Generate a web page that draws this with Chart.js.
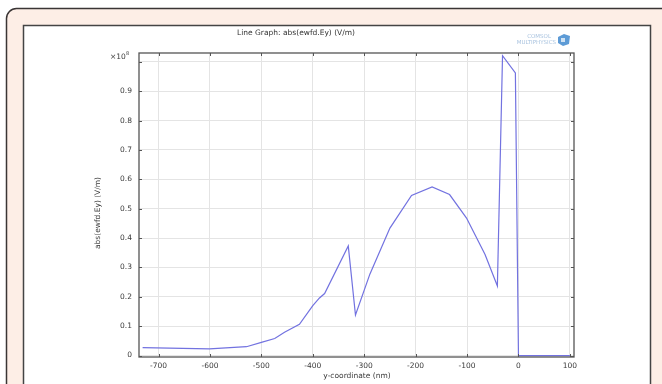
<!DOCTYPE html>
<html>
<head>
<meta charset="utf-8">
<script src="https://cdn.jsdelivr.net/npm/chart.js@4/dist/chart.umd.min.js"></script>
<style>
  html, body { margin: 0; padding: 0; background: #ffffff; }
  #wrap { width: 662px; height: 384px; position: relative; }
</style>
</head>
<body>
<div id="wrap"><canvas id="chart"></canvas></div>
<script>
// y-coordinate (nm)
const yCoord = [-731, -601, -529, -500, -474, -455, -426, -400, -387, -377, -331, -317,
  -289, -250, -208, -168, -134, -101, -65, -41, -31, -6, 0, 100];
// abs(ewfd.Ey), in units of 1e8 V/m
const absEy = [0.027, 0.023, 0.030, 0.045, 0.058, 0.079, 0.106, 0.170, 0.196, 0.211, 0.373, 0.138,
  0.277, 0.434, 0.545, 0.574, 0.548, 0.468, 0.344, 0.237, 1.021, 0.962, 0.0, 0.0];
const xTicks = [-700, -600, -500, -400, -300, -200, -100, 0, 100];
const yTicks = [0, 0.1, 0.2, 0.3, 0.4, 0.5, 0.6, 0.7, 0.8, 0.9, 1.0];

const font = "DejaVu Sans";
const points = yCoord.map((x, i) => ({ x: x, y: absEy[i] }));

// frame around the figure (peach panel, white plot window)
const framePlugin = {
  id: "frame",
  beforeDraw(chart) {
    const c = chart.ctx;
    c.save();
    c.fillStyle = "#ffffff";
    c.fillRect(0, 0, 662, 384);
    c.beginPath();
    c.moveTo(6.5, 400);
    c.lineTo(6.5, 19);
    c.arcTo(6.5, 8.5, 17, 8.5, 10);
    c.lineTo(680, 8.5);
    c.lineTo(680, 400);
    c.closePath();
    c.fillStyle = "#fdeee6";
    c.fill();
    c.strokeStyle = "#3a3535";
    c.lineWidth = 1.5;
    c.stroke();
    c.fillStyle = "#ffffff";
    c.fillRect(23.5, 25.5, 627, 380);
    c.strokeStyle = "#444";
    c.lineWidth = 1.5;
    c.strokeRect(23.5, 25.5, 627, 380);
    c.restore();
  },
  afterDraw(chart) {
    const c = chart.ctx;
    const a = chart.chartArea;
    const xs = chart.scales.x, ys = chart.scales.y;
    c.save();
    // axis box
    c.strokeStyle = "#555";
    c.lineWidth = 1.3;
    c.strokeRect(a.left, a.top, a.right - a.left, a.bottom - a.top);
    // inward ticks
    c.lineWidth = 1;
    c.beginPath();
    xTicks.forEach(v => {
      const px = Math.round(xs.getPixelForValue(v)) + 0.5;
      c.moveTo(px, a.bottom); c.lineTo(px, a.bottom - 3);
      c.moveTo(px, a.top); c.lineTo(px, a.top + 3);
    });
    yTicks.forEach(v => {
      const py = Math.round(ys.getPixelForValue(v)) + 0.5;
      c.moveTo(a.left, py); c.lineTo(a.left + 3, py);
      c.moveTo(a.right, py); c.lineTo(a.right - 3, py);
    });
    c.stroke();
    // title
    c.fillStyle = "#333";
    c.font = "7.5px " + font;
    c.textAlign = "center";
    c.textBaseline = "middle";
    c.fillText("Line Graph: abs(ewfd.Ey) (V/m)", 296, 33);
    // axis titles
    c.fillStyle = "#3a3a3a";
    c.fillText("y-coordinate (nm)", 357, 376);
    c.save();
    c.translate(98, 213);
    c.rotate(-Math.PI / 2);
    c.fillText("abs(ewfd.Ey) (V/m)", 0, 0);
    c.restore();
    // multiplier
    c.textAlign = "left";
    c.fillText("\u00d710", 110, 57);
    c.font = "5px " + font;
    c.fillText("8", 126, 54);
    // logo
    c.fillStyle = "#a9c3df";
    c.font = "5.5px " + font;
    c.textAlign = "right";
    c.fillText("COMSOL", 551, 37);
    c.fillText("MULTIPHYSICS", 556, 43);
    c.fillStyle = "#5d9bd6";
    c.beginPath();
    c.moveTo(564, 34); c.lineTo(570, 36); c.lineTo(569, 44);
    c.lineTo(563, 46); c.lineTo(558, 43); c.lineTo(558, 37);
    c.closePath();
    c.fill();
    c.fillStyle = "#cfe2f3";
    c.fillRect(561, 38, 4, 4);
    c.restore();
  }
};

new Chart(document.getElementById("chart"), {
  type: "scatter",
  data: {
    datasets: [{
      data: points,
      showLine: true,
      borderColor: "#7272e0",
      borderWidth: 1.2,
      pointRadius: 0,
      tension: 0
    }]
  },
  options: {
    responsive: true,
    maintainAspectRatio: false,
    animation: false,
    events: [],
    layout: { padding: { left: 0, top: 53, right: 88, bottom: 0 } },
    plugins: { legend: { display: false }, tooltip: { enabled: false } },
    scales: {
      x: {
        type: "linear",
        min: -738,
        max: 108,
        afterFit(scale) { scale.height = 27; },
        border: { display: false },
        grid: { color: "#e4e4e4", lineWidth: 1, drawTicks: false },
        ticks: {
          stepSize: 100,
          includeBounds: false,
          padding: 5,
          color: "#3a3a3a",
          font: { family: font, size: 7.5 },
          maxRotation: 0,
          callback: v => String(v)
        }
      },
      y: {
        type: "linear",
        min: -0.005,
        max: 1.03,
        afterFit(scale) { scale.width = 139; },
        border: { display: false },
        grid: { color: "#e4e4e4", lineWidth: 1, drawTicks: false },
        ticks: {
          stepSize: 0.1,
          includeBounds: false,
          padding: 7,
          color: "#3a3a3a",
          font: { family: font, size: 7.5 },
          callback: v => Math.abs(v - 1) < 1e-6 ? "" : String(Math.round(v * 10) / 10)
        }
      }
    }
  },
  plugins: [framePlugin]
});
</script>
</body>
</html>
